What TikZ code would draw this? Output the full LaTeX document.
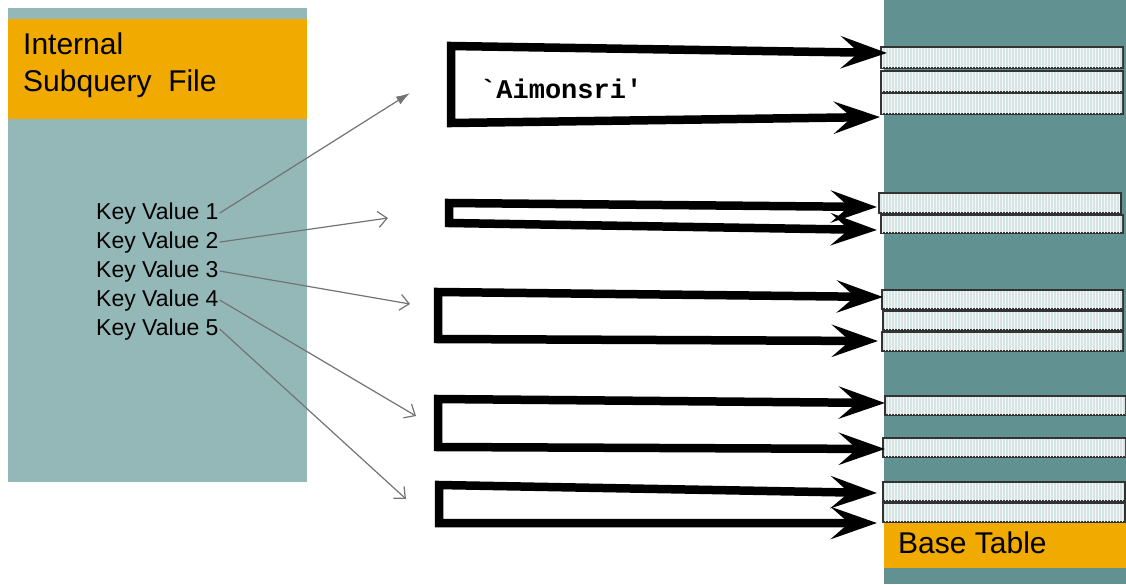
\documentclass[tikz,border=0pt]{standalone}
\usepackage{fontspec}
\setmainfont{Liberation Sans}
\setmonofont{Liberation Mono}
\usetikzlibrary{arrows.meta,patterns}

\definecolor{filegray}{RGB}{148,184,184}
\definecolor{tableteal}{RGB}{98,145,145}
\definecolor{labelorange}{RGB}{240,170,0}
\definecolor{rowfill}{RGB}{214,228,228}
\definecolor{pointergray}{RGB}{115,115,115}

\tikzset{
  title/.style={anchor=north west, inner sep=0pt, align=left, font=\fontsize{30}{37}\selectfont},
  keyval/.style={anchor=base west, inner sep=1pt, font=\fontsize{23}{27}\selectfont},
  pointer/.style={pointergray, line width=1.2pt, -{Straight Barb[length=9pt,width=16pt]}},
  rowbox/.style={draw=black!80, line width=1.4pt, fill=rowfill},
  fetch/.style={line width=8.5pt, line join=miter,
    {Stealth[length=46pt,width=32pt,inset=18pt]}-{Stealth[length=46pt,width=32pt,inset=18pt]}},
}

\begin{document}
\begin{tikzpicture}[x=1pt,y=-1pt]
\useasboundingbox (0,0) rectangle (1126,584);

%Subquery file on the left
\fill[filegray] (8,8) rectangle (307,482);
\fill[labelorange] (8,19) rectangle (307,119);
\node[title] (subq) at (23,33) {Internal\\Subquery\ \ File};

\foreach \k/\y in {1/219,2/248,3/277,4/306,5/335}
  \node[keyval] (kv\k) at (95,\y) {Key Value \k};

%Base table on the right
\fill[tableteal] (884,0) rectangle (1126,584);
\fill[labelorange] (884,523) rectangle (1126,568);
\node[anchor=base west, inner sep=0pt, font=\fontsize{30}{35}\selectfont] (base) at (898,553) {Base Table};

%rows fetched for each key
\foreach \xa/\ya/\xb/\yb in {881/47/1123/68, 881/71/1123/92, 881/93/1123/114,
    879/193/1121/213, 881/215/1123/233,
    882/290/1123/309, 883/311/1123/330, 882/332/1123/351,
    885/396/1126/415, 883/438/1126/457,
    883/482/1125/501, 883/503/1125/522}
  {
  \draw[rowbox] (\xa,\ya) rectangle (\xb,\yb);
  \fill[pattern=vertical lines, pattern color=white!70!rowfill] (\xa+1,\ya+1) rectangle (\xb-1,\yb-1);
  }

%ends of the key pointers
\coordinate (p1) at (410,93);
\coordinate (p2) at (388,218);
\coordinate (p3) at (410,304);
\coordinate (p4) at (416,416);
\coordinate (p5) at (406,499);

\draw[pointergray, line width=1.2pt, -{Latex[length=14pt,width=9pt]}] (kv1.east) -- (p1);
\draw[pointer] (kv2.east) -- (p2);
\draw[pointer] (kv3.east) -- (p3);
\draw[pointer] (kv4.east) -- (p4);
\draw[pointer] (kv5.east) -- (p5);

%bracket arrows into the table
\coordinate (a1) at (451,46);  \coordinate (a2) at (451,123);
\coordinate (ta1) at (887,53); \coordinate (ta2) at (880,117);
\coordinate (b1) at (449,203); \coordinate (b2) at (449,223);
\coordinate (tb1) at (877,207); \coordinate (tb2) at (877,230);
\coordinate (c1) at (438,292); \coordinate (c2) at (438,339);
\coordinate (tc1) at (883,297); \coordinate (tc2) at (878,341);
\coordinate (d1) at (438,399); \coordinate (d2) at (438,447);
\coordinate (td1) at (885,403); \coordinate (td2) at (885,449);
\coordinate (e1) at (439,485); \coordinate (e2) at (439,523);
\coordinate (te1) at (877,493); \coordinate (te2) at (877,523);

\foreach \g in {a,b,c,d,e}
  \draw[fetch] (t\g1) -- (\g1) -- (\g2) -- (t\g2);

\node[anchor=base west, inner sep=0pt, font=\ttfamily\bfseries\fontsize{27}{30}\selectfont] (name) at (480,98) {`Aimonsri'};
\end{tikzpicture}
\end{document}
